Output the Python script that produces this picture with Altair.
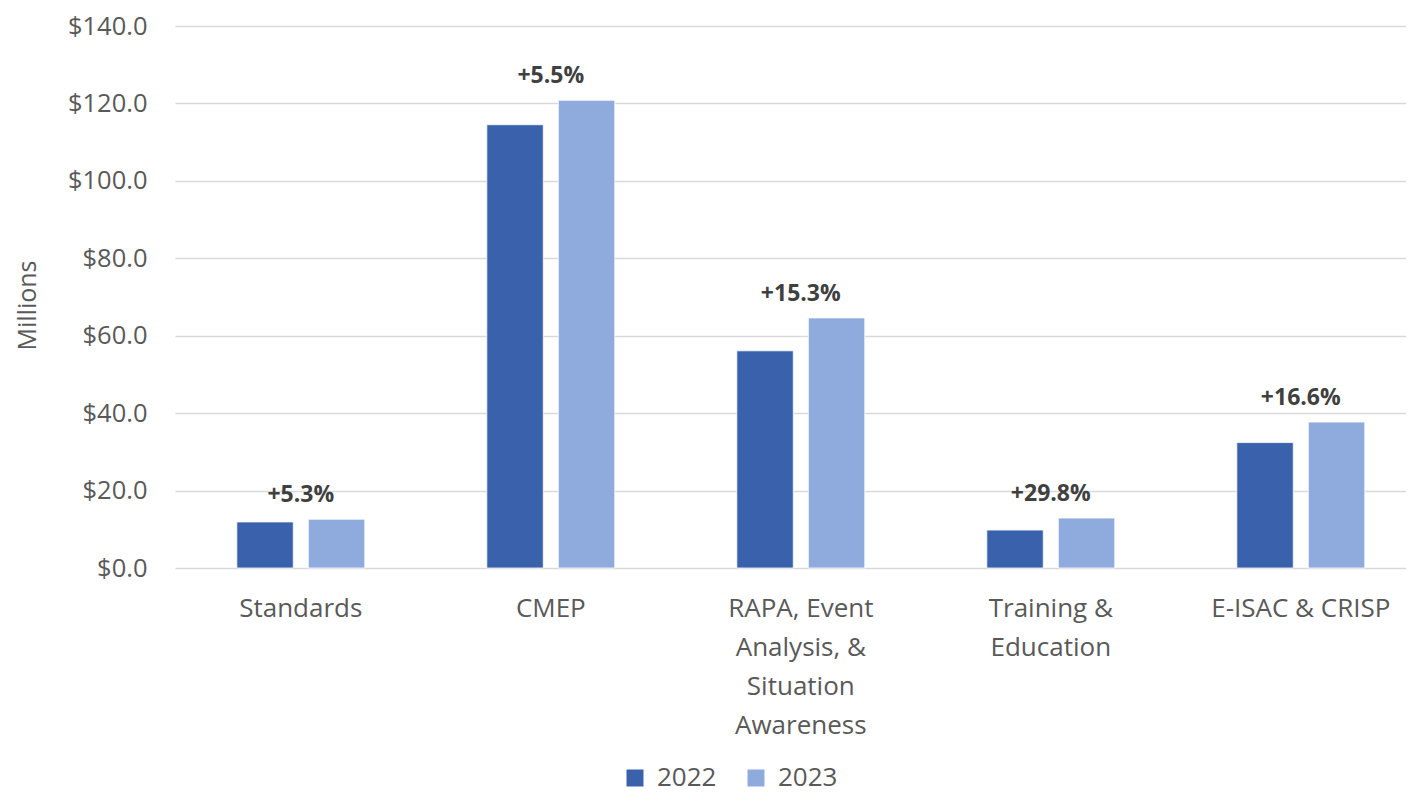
import altair as alt
import pandas as pd

categories = [
    "Standards",
    "CMEP",
    "RAPA, Event\nAnalysis, &\nSituation\nAwareness",
    "Training &\nEducation",
    "E-ISAC & CRISP",
]
years = ["2022", "2023"]
values_2022 = [11.9, 114.5, 56.1, 9.8, 32.4]
values_2023 = [12.6, 120.8, 64.6, 12.9, 37.7]
change_labels = ["+5.3%", "+5.5%", "+15.3%", "+29.8%", "+16.6%"]
colors = ["#3A62AC", "#8FAADC"]

FONT = "Open Sans"
GREY = "#595959"

rows = []
for c, v22, v23 in zip(categories, values_2022, values_2023):
    rows.append({"category": c, "year": years[0], "value": v22})
    rows.append({"category": c, "year": years[1], "value": v23})
df = pd.DataFrame(rows)

lab = pd.DataFrame({
    "category": categories,
    "top": [max(a, b) for a, b in zip(values_2022, values_2023)],
    "label": change_labels,
})

x_enc = alt.X(
    "category:N",
    sort=categories,
    scale=alt.Scale(paddingInner=0.488, paddingOuter=0.206, align=0.6),
    axis=alt.Axis(
        title=None,
        labelExpr="split(datum.label, '\\n')",
        labelFontSize=26,
        labelFont=FONT,
        labelColor=GREY,
        labelLineHeight=39,
        labelPadding=27,
        labelAngle=0,
        labelBaseline="top",
        labelLimit=0,
        domain=False,
        ticks=False,
        grid=False,
    ),
)

y_enc = alt.Y(
    "value:Q",
    scale=alt.Scale(domain=[0, 140], nice=False),
    axis=alt.Axis(
        title="Millions",
        values=[0, 20, 40, 60, 80, 100, 120, 140],
        format="$.1f",
        labelFontSize=25.5,
        labelFont=FONT,
        labelColor=GREY,
        labelPadding=28,
        ticks=False,
        domain=False,
        gridColor="#D9D9D9",
        gridWidth=1.3,
        titleFont=FONT,
        titleFontSize=25,
        titleFontWeight="normal",
        titleColor=GREY,
        titleAngle=-90,
        titleX=-148,
        titleY=279,
        titleAlign="center",
        titleBaseline="middle",
    ),
)

bars = alt.Chart(df).mark_bar(stroke="white", strokeWidth=0.8).encode(
    x=x_enc,
    xOffset=alt.XOffset("year:N", sort=years, scale=alt.Scale(paddingInner=0.21, paddingOuter=0)),
    y=y_enc,
    color=alt.Color(
        "year:N",
        scale=alt.Scale(domain=years, range=colors),
        legend=alt.Legend(
            title=None,
            orient="none",
            direction="horizontal",
            legendX=447,
            legendY=739,
            symbolType="square",
            symbolSize=289,
            symbolStrokeWidth=0,
            labelFontSize=26,
            labelFont=FONT,
            labelColor=GREY,
            labelOffset=9,
            columnPadding=26,
            padding=0,
        ),
    ),
)

texts = alt.Chart(lab).mark_text(
    fontSize=23, fontWeight="bold", font=FONT, color="#404040", dy=-24, baseline="middle"
).encode(
    x=alt.X("category:N", sort=categories),
    y=alt.Y("top:Q"),
    text="label:N",
)

chart = alt.layer(bars, texts).properties(
    width=1231,
    height=542,
    autosize=alt.AutoSizeParams(type="none"),
    padding={"left": 167, "top": 18, "right": 0, "bottom": 225},
).configure_view(stroke=None)

chart.save("out.html", embed_options={"renderer": "svg", "actions": False})
